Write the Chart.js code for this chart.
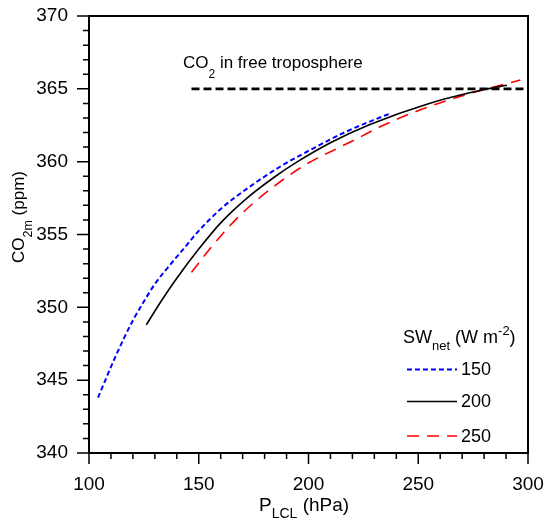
<!DOCTYPE html>
<html>
<head>
<meta charset="utf-8">
<script src="https://cdn.jsdelivr.net/npm/chart.js@4.4.0/dist/chart.umd.min.js"></script>
<style>
  body { margin: 0; background: #fff; }
  #wrap { width: 546px; height: 523px; }
</style>
</head>
<body>
<div id="wrap"><canvas id="co2Chart" width="546" height="523"></canvas></div>
<script>
// CO2 at 2 m vs LCL pressure for three net shortwave forcings
const pLcl150 = [104.1, 108, 112, 116, 120, 125, 130, 136, 143, 150, 160, 172, 187, 202, 217, 232, 237.1];
const co2m150 = [343.8, 345.2, 346.6, 347.9, 349.1, 350.4, 351.6, 352.75, 354.0, 355.25, 356.75, 358.15, 359.65, 360.9, 362.05, 363.0, 363.3];

const pLcl200 = [126.1, 133, 140, 150, 160, 172, 185, 195, 210, 228, 255, 280, 290.4];
const co2m200 = [348.8, 350.45, 352.0, 354.0, 355.8, 357.5, 359.0, 360.0, 361.3, 362.55, 364.0, 364.95, 365.25];

const pLcl250 = [146.7, 150, 155, 160, 168.7, 180, 197.6, 214.3, 222.3, 234.1, 251.6, 270.6, 296.5];
const co2m250 = [352.4, 353.05, 354.0, 354.9, 356.3, 357.8, 359.7, 361.0, 361.6, 362.5, 363.6, 364.55, 365.6];

// free troposphere reference level
const ftP = [146.7, 300];
const ftCO2 = [365, 365];

const xTicks = [100, 150, 200, 250, 300];
const yTicks = [340, 345, 350, 355, 360, 365, 370];
const swLabels = ['150', '200', '250'];

const FONT = "'Liberation Sans', Arial, sans-serif";

function pts(xs, ys) {
    return xs.map((v, i) => ({ x: v, y: ys[i] }));
}

const series = [
    { label: swLabels[0], data: pts(pLcl150, co2m150), borderColor: '#0000ff', borderWidth: 2, borderDash: [5, 3] },
    { label: swLabels[1], data: pts(pLcl200, co2m200), borderColor: '#000000', borderWidth: 1.6, borderDash: [] },
    { label: swLabels[2], data: pts(pLcl250, co2m250), borderColor: '#ff0000', borderWidth: 1.6, borderDash: [12, 8] }
];

// draws text runs with sub/superscripts
function richText(ctx, parts, x, y) {
    let cx = x;
    parts.forEach(p => {
        ctx.font = p.size + 'px ' + FONT;
        ctx.fillText(p.t, cx, y + (p.dy || 0));
        cx += ctx.measureText(p.t).width;
    });
}

function noPad(s) {
    s.paddingTop = 0; s.paddingBottom = 0; s.paddingLeft = 0; s.paddingRight = 0;
}

const decor = {
    id: 'decor',
    afterDraw(chart) {
        const { ctx, chartArea: a, scales: { x, y } } = chart;
        ctx.save();
        ctx.strokeStyle = '#000';
        ctx.fillStyle = '#000';
        ctx.lineWidth = 2;
        ctx.setLineDash([]);
        ctx.strokeRect(a.left, a.top, a.right - a.left, a.bottom - a.top);

        // major + minor ticks, outside
        ctx.lineWidth = 1.5;
        ctx.beginPath();
        for (let v = x.min; v <= x.max; v += 10) {
            const px = x.getPixelForValue(v);
            const len = xTicks.includes(v) ? 11 : 6;
            ctx.moveTo(px, a.bottom);
            ctx.lineTo(px, a.bottom + len);
        }
        for (let v = y.min; v <= y.max; v += 1) {
            const py = y.getPixelForValue(v);
            const len = yTicks.includes(v) ? 12 : 6;
            ctx.moveTo(a.left, py);
            ctx.lineTo(a.left - len, py);
        }
        ctx.stroke();

        ctx.textAlign = 'left';
        ctx.textBaseline = 'alphabetic';

        // annotation
        richText(ctx, [
            { t: 'CO', size: 17 },
            { t: '2', size: 12, dy: 10 },
            { t: ' in free troposphere', size: 17 }
        ], 183, 68);

        // x title
        richText(ctx, [
            { t: 'P', size: 19 },
            { t: 'LCL', size: 14, dy: 7 },
            { t: ' (hPa)', size: 19 }
        ], 259, 511);

        // y title, rotated
        ctx.save();
        ctx.translate(23.5, 263);
        ctx.rotate(-Math.PI / 2);
        richText(ctx, [
            { t: 'CO', size: 17 },
            { t: '2m', size: 12.5, dy: 8 },
            { t: ' (ppm)', size: 17 }
        ], 0, 0);
        ctx.restore();

        // legend
        richText(ctx, [
            { t: 'SW', size: 18 },
            { t: 'net', size: 13, dy: 7 },
            { t: ' (W m', size: 18 },
            { t: '-2', size: 13, dy: -8 },
            { t: ')', size: 18 }
        ], 403, 343);

        const rowY = [369.5, 401.5, 436];
        chart.data.datasets.slice(0, 3).forEach((ds, i) => {
            ctx.strokeStyle = ds.borderColor;
            ctx.lineWidth = ds.borderWidth;
            ctx.setLineDash(ds.borderDash);
            ctx.beginPath();
            ctx.moveTo(407, rowY[i]);
            ctx.lineTo(457, rowY[i]);
            ctx.stroke();
            ctx.setLineDash([]);
            ctx.font = '18px ' + FONT;
            ctx.textBaseline = 'middle';
            ctx.fillText(ds.label, 461, rowY[i] + 1);
            ctx.textBaseline = 'alphabetic';
        });
        ctx.restore();
    }
};

new Chart(document.getElementById('co2Chart').getContext('2d'), {
    type: 'scatter',
    data: {
        datasets: series.map(s => Object.assign({
            showLine: true,
            pointRadius: 0,
            fill: false,
            cubicInterpolationMode: 'monotone'
        }, s)).concat([{
            label: 'free troposphere',
            data: pts(ftP, ftCO2),
            showLine: true,
            pointRadius: 0,
            borderColor: '#000',
            borderWidth: 2.7,
            borderDash: [8, 4]
        }])
    },
    options: {
        responsive: false,
        animation: false,
        layout: { padding: { left: 0, right: 18, top: 16, bottom: 0 } },
        plugins: { legend: { display: false }, tooltip: { enabled: false } },
        scales: {
            x: {
                type: 'linear',
                min: 100, max: 300,
                afterBuildTicks: s => { s.ticks = xTicks.map(v => ({ value: v })); },
                ticks: { color: '#000', font: { family: FONT, size: 19 }, padding: 20, maxRotation: 0 },
                grid: { display: false, drawTicks: false },
                border: { display: false },
                afterFit: s => { s.height = 70; noPad(s); }
            },
            y: {
                type: 'linear',
                min: 340, max: 370,
                afterBuildTicks: s => { s.ticks = yTicks.map(v => ({ value: v })); },
                ticks: { color: '#000', font: { family: FONT, size: 19 }, padding: 21 },
                grid: { display: false, drawTicks: false },
                border: { display: false },
                afterFit: s => { s.width = 89; noPad(s); }
            }
        }
    },
    plugins: [decor]
});
</script>
</body>
</html>
